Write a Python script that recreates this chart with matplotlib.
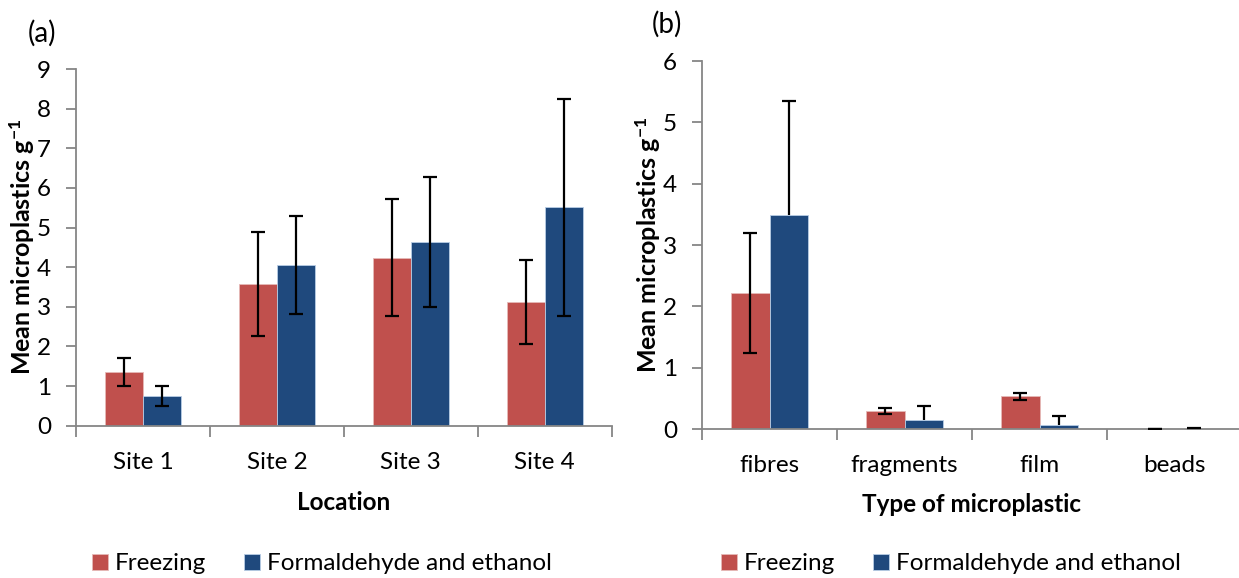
import matplotlib
matplotlib.use("Agg")
import matplotlib.pyplot as plt
import numpy as np

plt.rcParams['font.family'] = ['Lato', 'DejaVu Sans']
plt.rcParams['mathtext.default'] = 'regular'

RED = '#C0504D'
BLUE = '#1F497D'
AXIS_GREY = '#868686'

# panel (a) - by location
sites = ['Site 1', 'Site 2', 'Site 3', 'Site 4']
freeze_site = [1.36, 3.57, 4.24, 3.12]
freeze_site_err = [0.35, 1.31, 1.47, 1.07]
form_site = [0.75, 4.06, 4.64, 5.51]
form_site_err = [0.26, 1.23, 1.64, 2.74]

# panel (b) - by type of microplastic
types = ['fibres', 'fragments', 'film', 'beads']
freeze_type = [2.22, 0.29, 0.53, 0.0]
freeze_type_err = [0.98, 0.045, 0.06, 0.0]
form_type = [3.49, 0.15, 0.07, 0.005]
form_type_err_up = [1.86, 0.23, 0.14, 0.01]

legend_labels = ['Freezing', 'Formaldehyde and ethanol']

W, H = 1239, 578
fig = plt.figure(figsize=(W / 100, H / 100), dpi=100)

ax_a = fig.add_axes([76 / W, 1 - 425.7 / H, 535.7 / W, 356.7 / H])
ax_b = fig.add_axes([702 / W, 1 - 429 / H, 540 / W, 368 / H])

bw = 0.285
tick_fs = 17.5


def style_axes(ax, cats, ymax, xlabel, xlab_y, ylab_x):
    ax.set_xlim(-0.5, len(cats) - 0.5)
    ax.set_ylim(0, ymax)
    ax.set_yticks(np.arange(0, ymax + 1, 1))
    for s in ['top', 'right']:
        ax.spines[s].set_visible(False)
    for s in ['left', 'bottom']:
        ax.spines[s].set_color(AXIS_GREY)
        ax.spines[s].set_linewidth(1.3)
    ax.set_xticks(np.arange(-0.5, len(cats) + 0.5, 1))
    ax.set_xticklabels([])
    ax.set_xticks(np.arange(len(cats)), minor=True)
    ax.set_xticklabels(cats, minor=True, fontsize=tick_fs)
    ax.tick_params(axis='x', which='major', length=8, width=1.3, color=AXIS_GREY, direction='out')
    ax.tick_params(axis='x', which='minor', length=0, pad=19)
    ax.tick_params(axis='y', length=7, width=1.3, color=AXIS_GREY, direction='out',
                   pad=11, labelsize=tick_fs)
    ax.set_xlabel(xlabel, fontsize=tick_fs, fontweight='bold')
    ax.xaxis.label.set_va('center')
    ax.xaxis.set_label_coords(0.5, xlab_y)
    ax.set_ylabel('Mean microplastics g$^{-1}$', fontsize=18, fontweight='bold')
    ax.yaxis.label.set_va('center')
    ax.yaxis.set_label_coords(ylab_x, 0.5)


def err(ax, xs, ys, yerr, upper_only=False):
    _, caps, _ = ax.errorbar(xs, ys, yerr=yerr, fmt='none', ecolor='black',
                             elinewidth=1.6, capsize=5, capthick=1.6, zorder=3)
    if upper_only:
        caps[0].set_visible(False)


x = np.arange(len(sites))
ax_a.bar(x - bw / 2, freeze_site, bw, color=RED, edgecolor='#E6B9B8', linewidth=0.6,
         label=legend_labels[0], zorder=2)
ax_a.bar(x + bw / 2, form_site, bw, color=BLUE, edgecolor='#B9CDE5', linewidth=0.6,
         label=legend_labels[1], zorder=2)
err(ax_a, x - bw / 2, freeze_site, freeze_site_err)
err(ax_a, x + bw / 2, form_site, form_site_err)
style_axes(ax_a, sites, 9, 'Location', (425.7 - 502) / 356.7, (22 - 76) / 535.7)

x = np.arange(len(types))
ax_b.bar(x - bw / 2, freeze_type, bw, color=RED, edgecolor='#E6B9B8', linewidth=0.6,
         label=legend_labels[0], zorder=2)
ax_b.bar(x + bw / 2, form_type, bw, color=BLUE, edgecolor='#B9CDE5', linewidth=0.6,
         label=legend_labels[1], zorder=2)
err(ax_b, x - bw / 2, freeze_type, freeze_type_err)
err(ax_b, x + bw / 2, form_type, [np.zeros(len(types)), form_type_err_up], upper_only=True)
style_axes(ax_b, types, 6, 'Type of microplastic', (429 - 504) / 368, (648 - 702) / 540)

fig.text(42 / W, 1 - 33 / H, '(a)', fontsize=20, ha='center', va='center')
fig.text(667 / W, 1 - 24 / H, '(b)', fontsize=20, ha='center', va='center')

for ax, x0 in [(ax_a, 92), (ax_b, 721)]:
    ax.legend(loc='center left', bbox_to_anchor=(x0 / W, 1 - 564 / H),
              bbox_transform=fig.transFigure, ncol=2, frameon=False, fontsize=tick_fs,
              handlelength=0.65, handleheight=0.65, handletextpad=0.3,
              columnspacing=1.55, borderpad=0, borderaxespad=0)

fig.savefig('out.png', dpi=100)
